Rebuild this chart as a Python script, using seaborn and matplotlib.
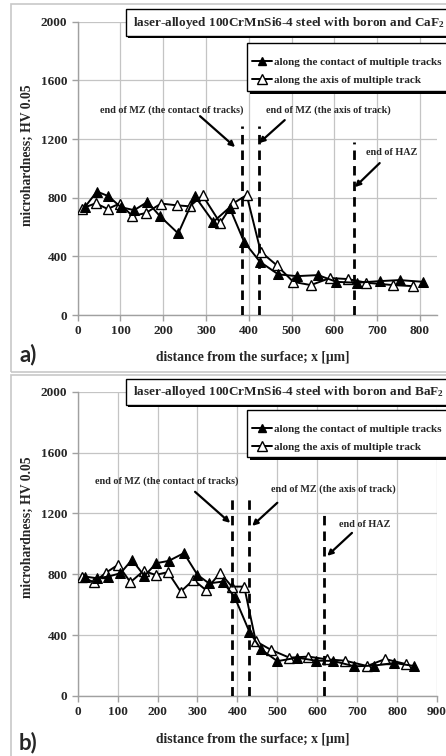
import matplotlib
matplotlib.use("Agg")
import matplotlib.pyplot as plt
import seaborn as sns
import pandas as pd
from matplotlib.patches import Rectangle
from matplotlib.lines import Line2D

# ---------------- data ----------------
labels_series = ["along the contact of multiple tracks", "along the axis of multiple track"]
titles = ["laser-alloyed 100CrMnSi6-4 steel with boron and CaF$_2$",
          "laser-alloyed 100CrMnSi6-4 steel with boron and BaF$_2$"]
panel_tags = ["a)", "b)"]

# panel a) (CaF2)
a_contact_x = [17, 45, 72, 101, 132, 163, 192, 235, 274, 317, 355, 389, 426, 469, 512, 562, 605, 652, 706, 753, 808]
a_contact_y = [737, 842, 810, 735, 715, 771, 675, 556, 810, 635, 733, 499, 363, 277, 265, 272, 226, 220, 231, 238, 226]
a_axis_x = [9, 42, 70, 98, 128, 159, 195, 231, 262, 292, 333, 364, 395, 428, 465, 504, 545, 590, 632, 675, 737, 784]
a_axis_y = [725, 762, 723, 760, 675, 695, 760, 748, 741, 816, 628, 762, 818, 431, 340, 226, 204, 252, 245, 220, 204, 197]

# panel b) (BaF2)
b_contact_x = [18, 48, 77, 107, 136, 167, 197, 228, 266, 300, 329, 363, 393, 430, 459, 500, 550, 597, 639, 693, 743, 793, 843]
b_contact_y = [785, 774, 785, 807, 895, 789, 873, 888, 939, 796, 740, 752, 651, 423, 307, 229, 252, 232, 231, 195, 200, 217, 197]
b_axis_x = [10, 41, 71, 101, 132, 165, 195, 226, 258, 290, 321, 357, 386, 417, 446, 483, 530, 578, 624, 670, 725, 770, 822]
b_axis_y = [781, 748, 811, 862, 748, 822, 796, 814, 686, 763, 697, 810, 719, 719, 360, 305, 252, 259, 241, 232, 197, 243, 210]

# zone borders: x position and drawn height
a_lines_x = [383, 424, 646]
a_lines_top = [1290, 1290, 1180]
b_lines_x = [387, 429, 618]
b_lines_top = [1310, 1310, 1190]

ann_texts = ["end of MZ (the contact of tracks)", "end of MZ (the axis of track)", "end of HAZ"]
# text centres (data coords)
a_text_xy = [(220, 1397), (585, 1397), (735, 1111)]
b_text_xy = [(224, 1414), (640, 1362), (720, 1125)]
# arrow tails and heads (data coords)
a_arrow_tail = [(286, 1356), (484, 1329), (706, 1036)]
a_arrow_head = [(368, 1145), (424, 1172), (648, 872)]
b_arrow_tail = [(294, 1342), (500, 1270), (687, 1072)]
b_arrow_head = [(382, 1138), (437, 1118), (625, 921)]

y_ticks = [0, 400, 800, 1200, 1600, 2000]
a_x_ticks = [0, 100, 200, 300, 400, 500, 600, 700, 800]
b_x_ticks = [0, 100, 200, 300, 400, 500, 600, 700, 800, 900]

# ---------------- style ----------------
sns.set_theme(style="white")
plt.rcParams["font.family"] = ["Liberation Serif", "DejaVu Serif"]
plt.rcParams["font.weight"] = "bold"
plt.rcParams["mathtext.fontset"] = "custom"
plt.rcParams["mathtext.rm"] = "Liberation Serif:bold"
plt.rcParams["mathtext.it"] = "Liberation Serif:bold"
plt.rcParams["mathtext.bf"] = "Liberation Serif:bold"

W, H = 446, 756
fig = plt.figure(figsize=(W / 100, H / 100), dpi=100)
fig.patch.set_facecolor("white")


def fx(px):
    return px / W


def fy(py):
    return 1 - py / H


def box(x0, y0, x1, y1, shadow=2.5, lw=1.0):
    fig.add_artist(Rectangle((fx(x0 + shadow), fy(y1 + shadow)), fx(x1) - fx(x0), fy(y0) - fy(y1),
                             transform=fig.transFigure, facecolor="black", edgecolor="none",
                             clip_on=False, zorder=9))
    fig.add_artist(Rectangle((fx(x0), fy(y1)), fx(x1) - fx(x0), fy(y0) - fy(y1),
                             transform=fig.transFigure, facecolor="white", edgecolor="black",
                             lw=lw, clip_on=False, zorder=10))


# panel frames
for top, bot in [(4, 372), (375, 790)]:
    fig.add_artist(Rectangle((fx(11), fy(bot)), fx(470) - fx(11), fy(top) - fy(bot),
                             transform=fig.transFigure, fill=False,
                             edgecolor="#c8c8c8", lw=1.2, clip_on=False))

panels = [
    dict(rect=(77.7, 21.7, 437, 315), xlim=(0, 840), xt=a_x_ticks,
         cx=a_contact_x, cy=a_contact_y, ax_x=a_axis_x, ax_y=a_axis_y,
         lx=a_lines_x, lt=a_lines_top, txy=a_text_xy, tail=a_arrow_tail, head=a_arrow_head,
         title_box=(126, 9.3, 36), legend_box=(247, 43, 90.5), ylab_y=155, xlab_y=357, tag_y=355),
    dict(rect=(77.7, 391.7, 437, 696), xlim=(0, 900), xt=b_x_ticks,
         cx=b_contact_x, cy=b_contact_y, ax_x=b_axis_x, ax_y=b_axis_y,
         lx=b_lines_x, lt=b_lines_top, txy=b_text_xy, tail=b_arrow_tail, head=b_arrow_head,
         title_box=(126, 379, 405), legend_box=(247, 410, 457.5), ylab_y=527, xlab_y=740, tag_y=743),
]

for i, p in enumerate(panels):
    l, t, r, b = p["rect"]
    ax = fig.add_axes([fx(l), fy(b), fx(r) - fx(l), fy(t) - fy(b)])
    ax.set_facecolor("white")

    df_c = pd.DataFrame({"x": p["cx"], "y": p["cy"]})
    df_a = pd.DataFrame({"x": p["ax_x"], "y": p["ax_y"]})
    sns.lineplot(data=df_c, x="x", y="y", ax=ax, color="black", lw=1.4, marker="^",
                 markersize=6.5, markerfacecolor="black", markeredgecolor="black",
                 sort=False, estimator=None, zorder=4)
    sns.lineplot(data=df_a, x="x", y="y", ax=ax, color="black", lw=1.4, marker="^",
                 markersize=7.5, markerfacecolor="white", markeredgecolor="black",
                 markeredgewidth=1.0, sort=False, estimator=None, zorder=3)

    for xv, tv in zip(p["lx"], p["lt"]):
        ax.plot([xv, xv], [0, tv], color="black", lw=2.0, ls=(0, (3.4, 2.2)), zorder=5)

    for txt, (tx, ty), tail, head in zip(ann_texts, p["txy"], p["tail"], p["head"]):
        ax.text(tx, ty, txt, ha="center", va="center", fontsize=7.3, fontweight="bold", zorder=6)
        ax.annotate("", xy=head, xytext=tail,
                    arrowprops=dict(arrowstyle="-|>", color="black", lw=1.6,
                                    mutation_scale=8, shrinkA=0, shrinkB=0), zorder=6)

    ax.set_xlim(*p["xlim"])
    ax.set_ylim(0, 2000)
    ax.set_xticks(p["xt"])
    ax.set_yticks(y_ticks)
    ax.grid(True, color="#c4c4c4", lw=0.9)
    ax.set_axisbelow(True)
    for s in ["top", "right"]:
        ax.spines[s].set_visible(False)
    for s in ["left", "bottom"]:
        ax.spines[s].set_color("#a0a0a0")
        ax.spines[s].set_linewidth(1.0)
    ax.tick_params(axis="both", which="both", direction="out", length=4, width=1,
                   color="#a0a0a0", labelsize=9.5, pad=3.5, left=True, bottom=True)
    for lab in ax.get_xticklabels() + ax.get_yticklabels():
        lab.set_fontweight("bold")
    ax.set_xlabel("")
    ax.set_ylabel("")

    # title box
    bx, btop, bbot = p["title_box"]
    box(bx, btop, 600, bbot, shadow=2.0)
    fig.text(fx(bx + 7), fy((btop + bbot) / 2 + 0.5), titles[i], ha="left", va="center",
             fontsize=9.5, fontweight="bold", zorder=11)

    # legend (frame drawn as box, entries by a figure legend above it)
    lx0, ltop, lbot = p["legend_box"]
    box(lx0, ltop, 600, lbot, shadow=3.0)
    handles = [Line2D([], [], color="black", lw=1.4, marker="^", markersize=6,
                      markerfacecolor="black", markeredgecolor="black"),
               Line2D([], [], color="black", lw=1.4, marker="^", markersize=6.5,
                      markerfacecolor="white", markeredgecolor="black")]
    leg = fig.legend(handles, labels_series, loc="center left",
                     bbox_to_anchor=(fx(lx0 + 5), fy(ltop + 28)), bbox_transform=fig.transFigure,
                     frameon=False, borderaxespad=0, borderpad=0,
                     handlelength=1.8, handletextpad=0.2, labelspacing=0.72,
                     prop={"family": "Liberation Serif", "weight": "bold", "size": 8.0})
    leg.set_zorder(12)

    # axis labels and tag
    fig.text(fx(27.5), fy(p["ylab_y"]), "microhardness; HV 0.05", rotation=90,
             ha="center", va="center", fontsize=9.8, fontweight="bold")
    fig.text(fx(253), fy(p["xlab_y"]), "distance from the surface; x [\u03bcm]",
             ha="center", va="center", fontsize=9.8, fontweight="bold")
    fig.text(fx(28), fy(p["tag_y"]), panel_tags[i], ha="center", va="center",
             fontsize=16, fontfamily="Lato", fontweight="bold")

fig.savefig("out.png", dpi=100, facecolor="white")
